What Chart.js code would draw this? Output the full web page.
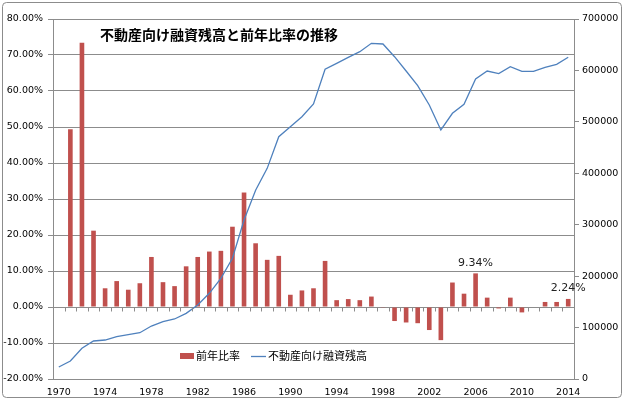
<!DOCTYPE html>
<html>
<head>
<meta charset="utf-8">
<script src="https://cdn.jsdelivr.net/npm/chart.js@4"></script>
<style>
  html, body { margin:0; padding:0; background:#fff; }
  #wrap { width:624px; height:400px; }
</style>
</head>
<body>
<div id="wrap"><canvas id="chart" width="624" height="400"></canvas></div>
<script>
// data
const years = [];
for (let y = 1970; y <= 2014; y++) years.push(String(y));

// 前年比率 (%)
const rateValues = [
  null, 49.4, 73.4, 21.2, 5.2, 7.2, 4.8, 6.6, 13.9, 6.9,
  5.8, 11.3, 13.9, 15.4, 15.6, 22.3, 31.8, 17.7, 13.1, 14.2,
  3.4, 4.6, 5.2, 12.8, 1.9, 2.2, 1.9, 2.9, -0.2, -3.9,
  -4.3, -4.5, -6.4, -9.2, 6.8, 3.7, 9.34, 2.6, -0.4, 2.6,
  -1.5, 0.0, 1.4, 1.4, 2.24
];

// 不動産向け融資残高
const balanceValues = [
  23300, 35000, 59700, 73900, 75800, 82300, 86200, 90000, 103000, 111400,
  116700, 127700, 143900, 166600, 195800, 234700, 309200, 367000, 409600, 471100,
  490600, 510000, 534700, 602200, 613800, 625500, 636400, 652700, 651400, 626700,
  598900, 570300, 532800, 484200, 516600, 534100, 583300, 598900, 593700, 607200,
  598200, 598200, 606000, 611800, 625500
];

const labeledYears = ["2006", "2014"];

const chartTitle = "不動産向け融資残高と前年比率の推移";
const gridColor = "#8c8c8c";
const tickFont = { family: "DejaVu Sans", size: 9.5 };

// frame, title, legend, labels
const decorations = {
  id: "decorations",
  beforeDraw(chart) {
    const ctx = chart.ctx;
    ctx.save();
    ctx.fillStyle = "#fff";
    ctx.fillRect(0, 0, chart.width, chart.height);
    ctx.strokeStyle = "#8c8c8c";
    ctx.lineWidth = 1;
    ctx.beginPath();
    ctx.roundRect(2.5, 2.5, chart.width - 5, chart.height - 5, 4);
    ctx.stroke();
    ctx.restore();
  },
  afterDatasetsDraw(chart) {
    const ctx = chart.ctx;
    const y = chart.scales.y;
    const area = chart.chartArea;
    ctx.save();

    // small ticks along the 0% line
    const y0 = Math.round(y.getPixelForValue(0)) + 0.5;
    const step = (area.right - area.left) / years.length;
    ctx.strokeStyle = gridColor;
    ctx.lineWidth = 1;
    ctx.beginPath();
    for (let i = 1; i < years.length; i++) {
      const px = Math.round(area.left + step * i) + 0.5;
      ctx.moveTo(px, y0);
      ctx.lineTo(px, y0 + 4);
    }
    ctx.stroke();

    // title
    ctx.fillStyle = "#000";
    ctx.font = "bold 14px 'Noto Sans CJK JP'";
    ctx.textAlign = "left";
    ctx.textBaseline = "middle";
    ctx.fillText(chartTitle, 100, 35);

    // legend
    ctx.font = "11px 'Noto Sans CJK JP'";
    ctx.fillStyle = chart.data.datasets[0].backgroundColor;
    ctx.fillRect(180, 353, 14, 6);
    ctx.fillStyle = "#000";
    ctx.fillText(chart.data.datasets[0].label, 196, 356);
    ctx.strokeStyle = chart.data.datasets[1].borderColor;
    ctx.lineWidth = 1.3;
    ctx.beginPath();
    ctx.moveTo(251, 356.5);
    ctx.lineTo(266, 356.5);
    ctx.stroke();
    ctx.fillText(chart.data.datasets[1].label, 268, 356);

    // data labels
    const meta = chart.getDatasetMeta(0);
    ctx.font = "11px 'DejaVu Sans'";
    ctx.fillStyle = "#222";
    ctx.textAlign = "center";
    ctx.textBaseline = "bottom";
    labeledYears.forEach(yr => {
      const i = years.indexOf(yr);
      const bar = meta.data[i];
      ctx.fillText(rateValues[i].toFixed(2) + "%", bar.x, bar.y - 5);
    });
    ctx.restore();
  }
};

new Chart(document.getElementById("chart"), {
  data: {
    labels: years,
    datasets: [
      {
        type: "bar",
        label: "前年比率",
        data: rateValues,
        yAxisID: "y",
        backgroundColor: "#C0504D",
        categoryPercentage: 1,
        barPercentage: 0.4,
        order: 1
      },
      {
        type: "line",
        label: "不動産向け融資残高",
        data: balanceValues,
        yAxisID: "y1",
        borderColor: "#4F81BD",
        borderWidth: 1.3,
        pointRadius: 0,
        tension: 0,
        order: 0
      }
    ]
  },
  options: {
    responsive: false,
    animation: false,
    layout: { padding: { top: 19, left: 0, right: 0, bottom: 0 } },
    plugins: {
      legend: { display: false },
      tooltip: { enabled: false }
    },
    scales: {
      x: {
        offset: true,
        grid: { display: false, drawTicks: false },
        border: { display: false },
        ticks: {
          autoSkip: false,
          maxRotation: 0,
          padding: 8,
          color: "#000",
          font: tickFont,
          callback: (v, i) => (i % 4 === 0 ? years[i] : "")
        },
        afterFit: s => { s.height = 21; }
      },
      y: {
        position: "left",
        min: -20,
        max: 80,
        grid: { color: gridColor, tickLength: 5 },
        border: { color: gridColor },
        ticks: {
          stepSize: 10,
          padding: 5,
          color: "#000",
          font: tickFont,
          callback: v => v.toFixed(2) + "%"
        },
        afterFit: s => { s.width = 53; }
      },
      y1: {
        position: "right",
        min: 0,
        max: 700000,
        grid: { drawOnChartArea: false, color: gridColor, tickLength: 5 },
        border: { color: gridColor },
        ticks: {
          stepSize: 100000,
          padding: 3,
          color: "#000",
          font: { family: "DejaVu Sans", size: 9.5 },
          callback: v => String(v)
        },
        afterFit: s => { s.width = 50; }
      }
    }
  },
  plugins: [decorations]
});
</script>
</body>
</html>
